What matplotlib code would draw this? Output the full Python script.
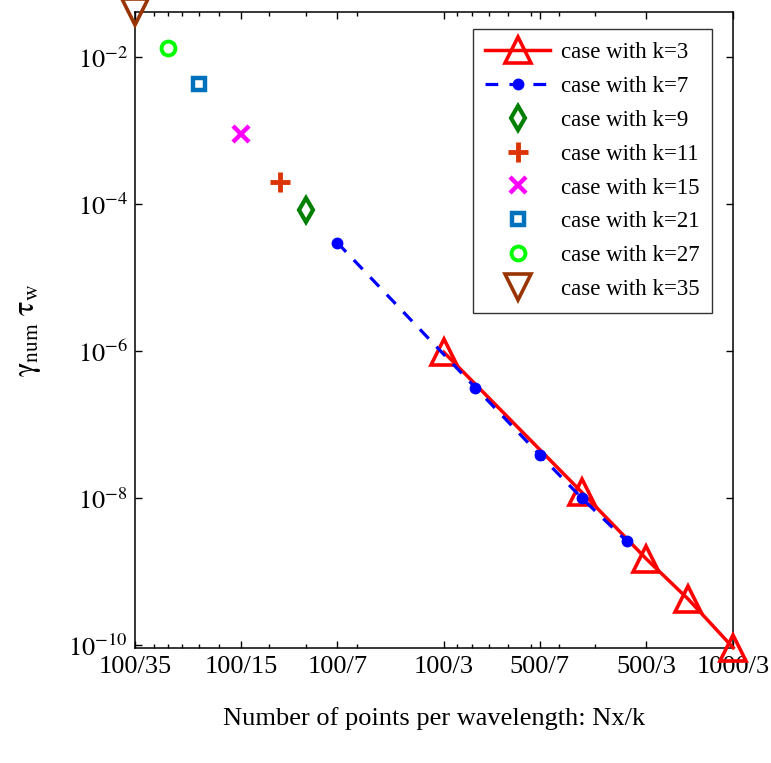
import numpy as np
import matplotlib
matplotlib.use('Agg')
import matplotlib.pyplot as plt
from matplotlib.ticker import FixedLocator, NullLocator, NullFormatter

plt.rcParams['font.family'] = ['Liberation Serif', 'DejaVu Serif']
plt.rcParams['mathtext.fontset'] = 'stix'

# k=3 and k=7 series: Nx values and error values
nx_series = [100, 300, 500, 700, 1000]
err_k3 = [9.7e-7, 1.2e-8, 1.5e-9, 4.2e-10, 9.2e-11]
err_k7 = [3.0e-5, 3.2e-7, 3.9e-8, 1.0e-8, 2.6e-9]

# single cases at Nx=100
single_k = [9, 11, 15, 21, 27, 35]
single_err = [8.3e-5, 2.0e-4, 8.9e-4, 4.35e-3, 1.35e-2, 4.1e-2]

xtick_vals = [100/35, 100/15, 100/7, 100/3, 500/7, 500/3, 1000/3]
xtick_labels = ['100/35', '100/15', '100/7', '100/3', '500/7', '500/3', '1000/3']
ytick_vals = [1e-10, 1e-8, 1e-6, 1e-4, 1e-2]
ytick_labels = [r'$10^{-10}$', r'$10^{-8}$', r'$10^{-6}$', r'$10^{-4}$', r'$10^{-2}$']
minor_k = np.arange(3, 31, 3)

styles = {
    9: dict(marker='d', color='#007F00', ms=12, mew=3.0, mfc='none'),
    11: dict(marker='+', color='#DD3300', ms=14, mew=3.5),
    15: dict(marker='x', color='#FF00FF', ms=11, mew=3.2),
    21: dict(marker='s', color='#0072BD', ms=9, mew=3.2, mfc='none'),
    27: dict(marker='o', color='#00FF00', ms=10, mew=2.8, mfc='none'),
    35: dict(marker='v', color='#993300', ms=19, mew=2.6, mfc='none'),
}

fig = plt.figure(figsize=(7.71, 7.63), dpi=100)
ax = fig.add_axes([0.175, 0.151, 0.776, 0.833])

x3 = np.array(nx_series) / 3
x7 = np.array(nx_series) / 7
ax.plot(x3, err_k3, '-', color='red', lw=2.5, marker='^', ms=19, mew=2.6,
        mfc='none', label='case with k=3', clip_on=False, zorder=3)
ax.plot(x7, err_k7, '--', color='blue', lw=2.3, dashes=(4, 3.5), marker='o',
        ms=7.5, mfc='blue', label='case with k=7', clip_on=False, zorder=4)
for k, e in zip(single_k, single_err):
    ax.plot([100 / k], [e], ls='none', label='case with k=%d' % k,
            clip_on=False, zorder=5, **styles[k])

ax.set_xscale('log')
ax.set_yscale('log')
ax.set_xlim(100/35, 1000/3)
ax.set_ylim(min(err_k3), max(single_err))

ax.set_xticks(xtick_vals)
ax.set_xticklabels(xtick_labels)
minor_vals = sorted(set(np.round(np.concatenate([100 / minor_k, 1000 / minor_k]), 6))
                    - set(np.round(xtick_vals, 6)))
ax.xaxis.set_minor_locator(FixedLocator(minor_vals))
ax.xaxis.set_minor_formatter(NullFormatter())
ax.set_yticks(ytick_vals)
ax.set_yticklabels(ytick_labels)
ax.yaxis.set_minor_locator(NullLocator())

ax.tick_params(which='both', direction='in', top=True, right=True, labelsize=19, width=1)
ax.tick_params(which='major', length=5, pad=5)
ax.tick_params(axis='x', which='major', pad=6)
ax.tick_params(which='minor', length=3)
for s in ax.spines.values():
    s.set_linewidth(1.1)

ax.set_xlabel('Number of points per wavelength: Nx/k', fontsize=19, labelpad=21)
ax.set_ylabel(r'$\mathrm{\gamma_{num}\ \tau_{w}}$', fontsize=22, labelpad=18)

leg = ax.legend(loc='upper right', bbox_to_anchor=(0.965, 0.973), borderaxespad=0,
                fontsize=16.5, frameon=True, fancybox=False, edgecolor='black',
                handlelength=2.8, labelspacing=0.56, borderpad=0.55, handletextpad=0.5)
leg.get_frame().set_linewidth(1.0)

plt.savefig('out.png', dpi=100)
